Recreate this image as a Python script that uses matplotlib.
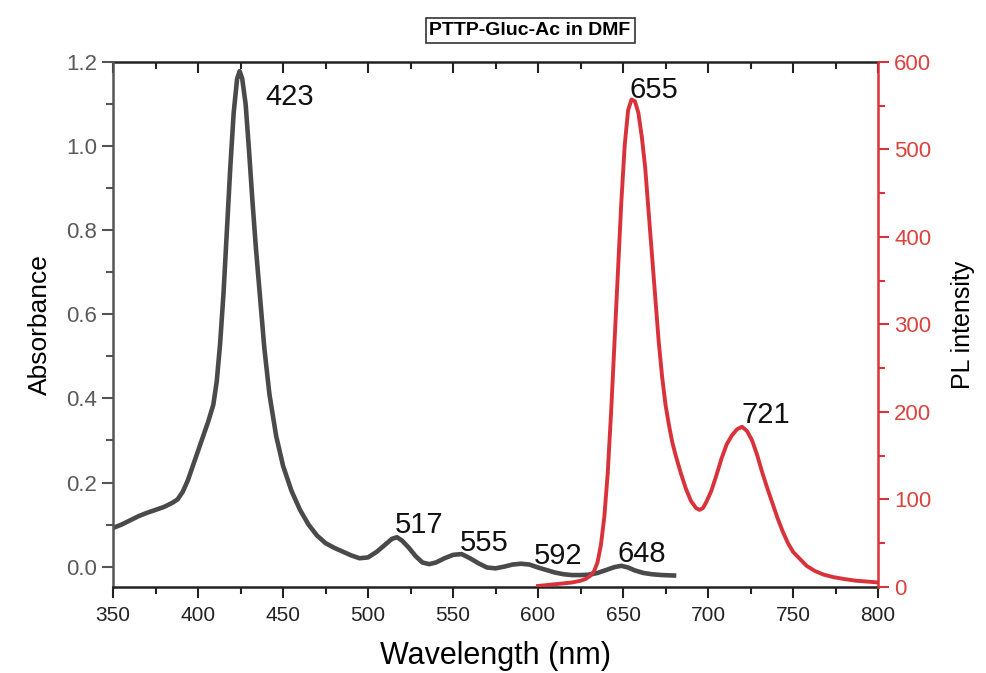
import matplotlib
matplotlib.use("Agg")
import matplotlib.pyplot as plt
from matplotlib.ticker import MultipleLocator

plt.rcParams['font.family'] = ['Liberation Sans', 'DejaVu Sans']

# UV-vis absorbance (left axis)
abs_wl = [350, 355, 360, 365, 370, 375, 380, 385, 388, 391, 394, 397, 400, 403, 406, 409,
          411, 413, 415, 417, 419, 421, 423, 424.5, 426, 428, 430, 432, 434, 436.5, 439, 442,
          446, 450, 455, 460, 465, 470, 475, 480, 485, 490, 495, 500, 505, 510, 514, 517,
          520, 524, 528, 532, 536, 540, 545, 550, 555, 560, 565, 570, 575, 580, 585, 590,
          595, 600, 605, 610, 615, 620, 625, 630, 635, 640, 645, 649, 653, 657, 662, 667,
          673, 680]
absorbance = [0.092, 0.100, 0.110, 0.120, 0.128, 0.135, 0.142, 0.152, 0.160, 0.178, 0.205, 0.240, 0.275, 0.310, 0.345, 0.385,
              0.44, 0.53, 0.65, 0.80, 0.95, 1.08, 1.16, 1.178, 1.16, 1.10, 0.99, 0.87, 0.76, 0.64, 0.52, 0.41,
              0.31, 0.24, 0.18, 0.135, 0.100, 0.074, 0.056, 0.045, 0.036, 0.027, 0.020, 0.022, 0.035, 0.052, 0.066, 0.070,
              0.062, 0.045, 0.025, 0.010, 0.006, 0.010, 0.020, 0.028, 0.030, 0.020, 0.008, -0.002, -0.004, 0.000, 0.005, 0.007,
              0.005, -0.002, -0.008, -0.014, -0.018, -0.020, -0.020, -0.019, -0.015, -0.008, -0.001, 0.002, -0.002, -0.009, -0.015, -0.018,
              -0.020, -0.021]

# Photoluminescence emission (right axis)
pl_wl = [600, 605, 610, 615, 620, 625, 628, 631, 633, 635, 637, 639, 641, 643, 645, 647,
         649, 651, 653, 655, 657, 659, 661, 663, 665, 667, 669, 671, 673, 675, 677, 679,
         681, 684, 687, 690, 693, 695, 697, 699, 702, 705, 708, 711, 714, 717, 720, 723,
         726, 729, 732, 735, 738, 741, 744, 747, 750, 754, 758, 763, 768, 774, 780, 787,
         794, 800]
pl_int = [1, 2, 3, 4, 5, 7, 9, 13, 18, 28, 48, 80, 130, 200, 280, 360,
          440, 505, 545, 557, 555, 542, 515, 480, 430, 380, 330, 280, 240, 208, 185, 165,
          150, 130, 112, 98, 90, 88, 90, 97, 110, 128, 147, 163, 173, 180, 183, 178,
          167, 150, 130, 112, 95, 78, 63, 50, 40, 32, 24, 18, 14, 11, 9, 7,
          6, 5]

peak_labels = ['423', '655', '721', '517', '555', '592', '648']
peak_x = [439.4, 654.1, 719.8, 515.9, 554.1, 597.6, 646.5]
peak_y = [1.116, 1.133, 0.360, 0.099, 0.056, 0.025, 0.031]

abs_color = '#4a4a4a'
pl_color = '#d8323b'

fig = plt.figure(figsize=(9.87, 6.73), dpi=100)
ax = fig.add_axes([0.1145, 0.128, 0.7751, 0.780])
ax2 = ax.twinx()

ax.plot(abs_wl, absorbance, color=abs_color, lw=3.3, solid_joinstyle='round')
ax2.plot(pl_wl, pl_int, color=pl_color, lw=2.8, solid_joinstyle='round')

ax.set_xlim(350, 800)
ax.set_ylim(-0.048, 1.2)
ax2.set_ylim(0, 600)

ax.xaxis.set_major_locator(MultipleLocator(50))
ax.xaxis.set_minor_locator(MultipleLocator(25))
ax.yaxis.set_major_locator(MultipleLocator(0.2))
ax.yaxis.set_minor_locator(MultipleLocator(0.1))
ax.yaxis.set_major_formatter(lambda v, p: f'{v:.1f}')
ax2.yaxis.set_major_locator(MultipleLocator(100))
ax2.yaxis.set_minor_locator(MultipleLocator(50))

ax.tick_params(axis='y', which='major', direction='out', length=8, width=1.5,
               labelsize=16, labelcolor='#5a5a5a', color='#555555')
ax.tick_params(axis='y', which='minor', direction='out', length=5, width=1.5, color='#555555')
ax.tick_params(axis='x', which='major', direction='out', length=8, width=1.5,
               labelsize=15, labelcolor='#222222', color='#222222', pad=6)
ax.tick_params(axis='x', which='minor', direction='out', length=5, width=1.5, color='#222222')
ax2.tick_params(axis='y', which='major', direction='out', length=8, width=1.5,
                labelsize=16, labelcolor='#d9443f', color=pl_color)
ax2.tick_params(axis='y', which='minor', direction='out', length=5, width=1.5, color=pl_color)

top = ax.secondary_xaxis('top')
top.xaxis.set_major_locator(MultipleLocator(50))
top.xaxis.set_minor_locator(MultipleLocator(25))
top.tick_params(which='major', direction='in', length=8, width=1.5, labeltop=False, color='#222222')
top.tick_params(which='minor', direction='in', length=5, width=1.5, color='#222222')
top.spines['top'].set_linewidth(1.8)
top.spines['top'].set_color('#222222')

ax.spines['left'].set_linewidth(1.8)
ax.spines['left'].set_color('#555555')
ax.spines['bottom'].set_linewidth(1.8)
ax.spines['bottom'].set_color('#222222')
ax.spines['right'].set_visible(False)
ax.spines['top'].set_visible(False)
ax2.spines['right'].set_color(pl_color)
ax2.spines['right'].set_linewidth(1.8)
for name in ['left', 'bottom', 'top']:
    ax2.spines[name].set_visible(False)

ax.set_xlabel('Wavelength (nm)', fontsize=22, labelpad=11)
ax.set_ylabel('Absorbance', fontsize=19, labelpad=10)
ax2.set_ylabel('PL intensity', fontsize=18, labelpad=14)

for lab, x, y in zip(peak_labels, peak_x, peak_y):
    ax.text(x, y, lab, fontsize=21, ha='left', va='center', color='#111111', zorder=5)

fig.text(0.537, 0.955, 'PTTP-Gluc-Ac in DMF', fontsize=14, fontweight='bold',
         ha='center', va='center',
         bbox=dict(boxstyle='square,pad=0.2', fc='white', ec='#333333', lw=1.2))

fig.savefig('out.png', dpi=100)
